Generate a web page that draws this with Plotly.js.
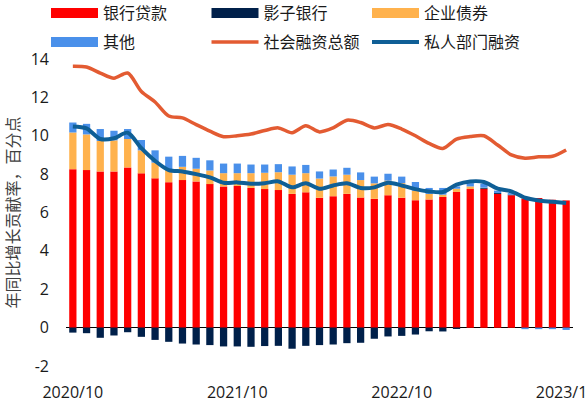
<!DOCTYPE html>
<html>
<head>
<meta charset="utf-8">
<script src="https://cdn.plot.ly/plotly-3.0.1.min.js"></script>
<style>
html,body{margin:0;padding:0;background:#fff;}
#chart{width:585px;height:402px;}
</style>
</head>
<body>
<div id="chart"></div>
<script>
const months = ["2020/10","2020/11","2020/12","2021/01","2021/02","2021/03","2021/04","2021/05","2021/06","2021/07","2021/08","2021/09",
"2021/10","2021/11","2021/12","2022/01","2022/02","2022/03","2022/04","2022/05","2022/06","2022/07","2022/08","2022/09",
"2022/10","2022/11","2022/12","2023/01","2023/02","2023/03","2023/04","2023/05","2023/06","2023/07","2023/08","2023/09","2023/10"];
const tickMonths = ["2020/10","2021/10","2022/10","2023/10"];
const yTickVals = [-2,0,2,4,6,8,10,12,14];
const yTickText = ["-2","0","2","4","6","8","10","12","14"];

// 银行贷款
const bankLoans = [8.26,8.21,8.14,8.14,8.35,8.04,7.78,7.58,7.69,7.62,7.48,7.36,7.38,7.28,7.22,7.17,6.97,7.05,6.77,6.85,6.97,6.78,6.71,6.90,6.77,6.64,6.68,6.81,7.07,7.22,7.22,6.97,6.90,6.73,6.75,6.66,6.63];
// 影子银行
const shadowBanking = [-0.26,-0.29,-0.53,-0.41,-0.24,-0.48,-0.64,-0.74,-0.83,-0.88,-0.91,-0.98,-0.98,-1.00,-0.96,-0.95,-1.10,-0.95,-0.91,-0.88,-0.81,-0.79,-0.58,-0.46,-0.43,-0.36,-0.19,-0.20,-0.07,0,0.05,0.05,0.03,0,0,0,0];
// 企业债券
const corpBonds = [1.91,1.86,1.59,1.62,1.48,1.20,0.82,0.63,0.69,0.66,0.71,0.69,0.67,0.77,0.85,0.93,1.00,1.00,1.00,1.03,1.00,0.91,0.81,0.76,0.76,0.50,0.29,0.12,0.17,0.14,0.02,0,0,0,0,0,0];
// 其他
const others = [0.52,0.55,0.62,0.50,0.52,0.54,0.64,0.70,0.57,0.57,0.53,0.50,0.50,0.45,0.43,0.42,0.43,0.43,0.37,0.36,0.36,0.40,0.35,0.36,0.34,0.45,0.31,0.35,0.12,0.17,0.21,0.12,0.08,-0.08,-0.08,-0.08,-0.12];
// 社会融资总额
const totalSocialFinancing = [13.62,13.58,13.27,13.00,13.27,12.31,11.76,11.03,10.93,10.58,10.24,9.95,10.00,10.09,10.27,10.41,10.16,10.52,10.20,10.41,10.81,10.69,10.41,10.58,10.35,10.00,9.60,9.34,9.83,9.96,10.00,9.52,9.00,8.83,8.90,8.93,9.26];
// 私人部门融资
const privateFinancing = [10.48,10.38,9.83,9.87,10.16,9.35,8.69,8.21,8.14,8.00,7.83,7.55,7.57,7.50,7.53,7.62,7.31,7.52,7.24,7.41,7.52,7.28,7.31,7.55,7.41,7.22,7.10,7.07,7.45,7.62,7.59,7.24,7.10,6.77,6.63,6.56,6.49];

const C = {loan:"#FF0000", shadow:"#00204A", bond:"#FFB24D", other:"#4A90EA", tsf:"#E35B32", priv:"#0F5F96"};
const CJK = "Noto Sans CJK SC, sans-serif";
const NUM = "Open Sans, Liberation Sans, sans-serif";

function barTrace(name, y, color){
  return {type:"bar", name:name, x:months, y:y, marker:{color:color, line:{width:0}}, showlegend:false, hoverinfo:"y"};
}
function legendDummy(name, color, width, legend){
  return {type:"scatter", mode:"lines", name:name, x:[months[0]], y:[null], line:{color:color, width:width}, legend:legend, hoverinfo:"skip"};
}

const data = [
  barTrace("银行贷款", bankLoans, C.loan),
  barTrace("影子银行", shadowBanking, C.shadow),
  barTrace("企业债券", corpBonds, C.bond),
  barTrace("其他", others, C.other),
  {type:"scatter", mode:"lines", name:"社会融资总额", x:months, y:totalSocialFinancing, line:{color:C.tsf, width:3.5, shape:"spline", smoothing:0.8}, showlegend:false},
  {type:"scatter", mode:"lines", name:"私人部门融资", x:months, y:privateFinancing, line:{color:C.priv, width:4, shape:"spline", smoothing:0.8}, showlegend:false},
  legendDummy("银行贷款", C.loan, 10, "legend"),
  legendDummy("影子银行", C.shadow, 10, "legend"),
  legendDummy("企业债券", C.bond, 10, "legend"),
  legendDummy("其他", C.other, 10, "legend2"),
  legendDummy("社会融资总额", C.tsf, 3.5, "legend2"),
  legendDummy("私人部门融资", C.priv, 4, "legend2")
];

const legendBase = {
  orientation:"h", xref:"container", yref:"container", xanchor:"left", yanchor:"middle",
  x:46/585, entrywidth:98.5, entrywidthmode:"pixels", itemwidth:47,
  font:{family:CJK, size:16, color:"#1a1a1a"}, bgcolor:"rgba(0,0,0,0)", traceorder:"normal"
};

const layout = {
  width:585, height:402,
  margin:{l:66, r:12, t:57, b:36},
  paper_bgcolor:"#ffffff", plot_bgcolor:"#ffffff",
  barmode:"relative", bargap:0.47,
  showlegend:true,
  legend:Object.assign({}, legendBase, {y:1-13/402}),
  legend2:Object.assign({}, legendBase, {y:1-42/402}),
  xaxis:{type:"category", range:[-0.5, 36.5], tickvals:tickMonths, ticktext:tickMonths,
         showgrid:false, showline:false, zeroline:false, ticks:"", ticklabelstandoff:15,
         tickfont:{family:NUM, size:16, color:"#1a1a1a"}},
  yaxis:{range:[-2,14], tickvals:yTickVals, ticktext:yTickText, showgrid:false, showline:false, ticks:"",
         zeroline:true, zerolinecolor:"#000000", zerolinewidth:1.5, ticklabelstandoff:16,
         tickfont:{family:NUM, size:16, color:"#1a1a1a"},
         title:{text:"年同比增长贡献率，百分点", font:{family:CJK, size:16, color:"#404040"}, standoff:8}},
  font:{family:CJK}
};

Plotly.newPlot("chart", data, layout, {displayModeBar:false, staticPlot:true});
</script>
</body>
</html>
